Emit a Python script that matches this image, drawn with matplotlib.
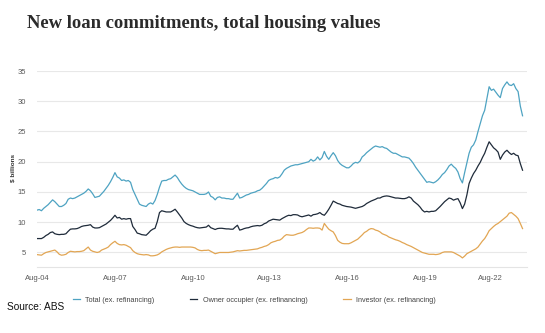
import matplotlib
matplotlib.use("Agg")
import matplotlib.pyplot as plt
import numpy as np

# Monthly values, Aug-2004 .. Oct-2022 ($ billions)
total = [
    12.0, 12.1, 11.9, 12.3, 12.6,
    12.9, 13.3, 13.7, 13.4, 13.0, 12.6, 12.6, 12.8, 13.1, 13.8, 14.0, 13.9,
    14.0, 14.2, 14.4, 14.6, 14.8, 15.1, 15.5, 15.2, 14.7, 14.1, 14.2, 14.3,
    14.7, 15.1, 15.6, 16.1, 16.7, 17.4, 18.2, 17.5, 17.3, 16.9, 17.0, 16.8,
    16.9, 16.6, 15.4, 14.6, 13.8, 13.0, 12.8, 12.7, 12.6, 13.0, 13.2, 13.0,
    13.6, 14.6, 15.8, 16.8, 16.9, 16.9, 17.1, 17.2, 17.5, 17.8, 17.4, 16.8,
    16.3, 15.9, 15.6, 15.4, 15.3, 15.2, 15.0, 14.8, 14.6, 14.6, 14.6, 14.7,
    15.0, 14.3, 14.1, 13.7, 14.1, 14.2, 14.0, 14.0, 13.9, 13.9, 13.8, 13.8,
    14.3, 14.8, 14.0, 14.1, 14.3, 14.5, 14.6, 14.8, 14.9, 15.0, 15.2, 15.3,
    15.6, 16.0, 16.4, 16.9, 17.1, 17.2, 17.4, 17.3, 17.5, 18.0, 18.6, 18.9,
    19.1, 19.3, 19.4, 19.5, 19.5, 19.6, 19.7, 19.8, 19.9, 20.0, 20.4, 20.1,
    20.3, 20.8, 20.3, 20.7, 21.7, 20.9, 20.4, 21.0, 21.5, 21.0, 20.2, 19.7,
    19.4, 19.2, 19.0, 19.0, 19.3, 19.7, 19.9, 19.8, 20.1, 20.8, 21.1, 21.5,
    21.8, 22.1, 22.4, 22.6, 22.5, 22.4, 22.5, 22.3, 22.2, 21.9, 21.6, 21.4,
    21.4, 21.2, 21.0, 20.8, 20.8, 20.7, 20.6, 20.2, 19.7, 19.1, 18.6, 18.1,
    17.6, 17.1, 16.6, 16.7, 16.6, 16.5, 16.7, 17.0, 17.4, 17.9, 18.2, 18.7,
    19.3, 19.6, 19.2, 18.9, 18.3, 17.2, 16.5, 18.2, 19.8, 21.4, 22.4, 22.8,
    23.6, 25.0, 26.3, 27.6, 28.5, 30.5, 32.4, 31.8, 32.0, 31.5, 31.0, 30.6,
    32.1, 32.7, 33.2, 32.7, 32.6, 32.9, 32.1, 31.6, 29.2, 27.6,
]

owner_occupier = [
    7.3, 7.3, 7.3, 7.5, 7.8,
    8.0, 8.3, 8.4, 8.1, 8.0, 7.95, 8.0, 8.0, 8.1, 8.5, 8.85, 8.9,
    8.9, 8.95, 9.1, 9.3, 9.4, 9.45, 9.5, 9.6, 9.2, 9.05, 9.05, 9.1,
    9.3, 9.5, 9.7, 10.0, 10.3, 10.7, 11.15, 10.7, 10.8, 10.5, 10.6, 10.5,
    10.6, 10.6, 9.3, 8.8, 8.2, 8.1, 7.95, 7.9, 7.85, 8.2, 8.6, 8.85,
    9.0, 10.1, 11.6, 11.9, 11.8, 11.7, 11.7, 11.7, 11.9, 12.15, 11.7, 11.2,
    10.7, 10.1, 9.8, 9.6, 9.45, 9.35, 9.2, 9.1, 9.05, 9.1, 9.15, 9.2,
    9.5, 9.1, 8.95, 8.8, 8.95, 9.0, 9.0, 8.95, 8.9, 8.9, 8.85, 8.85,
    9.2, 9.5, 8.7, 8.8, 8.95, 9.05, 9.1, 9.25, 9.35, 9.4, 9.45, 9.4,
    9.5, 9.75, 9.9, 10.2, 10.35, 10.5, 10.45, 10.4, 10.35, 10.6, 10.8, 11.0,
    11.15, 11.1, 11.25, 11.25, 11.2, 11.0, 10.9, 11.0, 11.1, 11.2, 11.0, 11.25,
    11.3, 11.4, 11.6, 11.3, 11.15, 11.6, 12.15, 12.8, 13.5, 13.3, 13.1, 13.0,
    12.8, 12.7, 12.6, 12.55, 12.5, 12.4, 12.3, 12.4, 12.5, 12.6, 12.8, 13.1,
    13.3, 13.5, 13.65, 13.8, 14.0, 14.0, 14.2, 14.3, 14.35, 14.3, 14.2, 14.1,
    14.0, 14.0, 13.95, 13.9, 13.9, 14.0, 14.2, 14.0, 13.5, 13.2, 12.9, 12.5,
    12.0, 11.7, 11.8, 11.7, 11.8, 11.8, 11.9, 12.25, 12.6, 13.0, 13.4, 13.7,
    14.0, 13.9, 13.65, 13.8, 13.9, 13.2, 12.25, 13.0, 14.5, 16.4, 17.3, 18.05,
    18.6, 19.3, 19.9, 20.7, 21.4, 22.4, 23.3, 22.8, 22.3, 22.0, 21.6, 20.4,
    21.1, 21.6, 21.9, 21.5, 21.2, 21.4, 21.1, 21.0, 19.7, 18.6,
]

investor = [
    4.65, 4.6, 4.55, 4.8, 5.0,
    5.1, 5.2, 5.3, 5.4, 5.1, 4.7, 4.55, 4.6, 4.7, 5.0, 5.2, 5.15,
    5.1, 5.15, 5.15, 5.2, 5.3, 5.6, 5.9, 5.4, 5.2, 5.1, 5.0, 5.1,
    5.4, 5.55, 5.7, 5.9, 6.3, 6.6, 6.85, 6.5, 6.3, 6.25, 6.3, 6.2,
    6.0, 5.8, 5.3, 5.0, 4.8, 4.7, 4.65, 4.6, 4.65, 4.6, 4.45, 4.45,
    4.5, 4.6, 4.8, 5.1, 5.3, 5.5, 5.65, 5.75, 5.85, 5.9, 5.9, 5.85,
    5.9, 5.9, 5.9, 5.9, 5.9, 5.85, 5.75, 5.5, 5.35, 5.3, 5.35, 5.35,
    5.4, 5.2, 5.0, 4.8, 4.9, 5.0, 5.0, 5.0, 5.0, 5.0, 5.05, 5.1,
    5.2, 5.3, 5.25, 5.3, 5.35, 5.35, 5.4, 5.45, 5.5, 5.55, 5.6, 5.75,
    5.85, 6.0, 6.1, 6.3, 6.6, 6.75, 6.85, 7.0, 7.05, 7.3, 7.7, 7.95,
    7.9, 7.85, 7.85, 7.95, 8.1, 8.2, 8.3, 8.5, 8.8, 9.05, 9.05, 9.0,
    9.05, 9.05, 9.0, 8.7, 9.8, 9.3, 8.85, 8.6, 8.4, 7.8, 7.0, 6.7,
    6.5, 6.45, 6.45, 6.45, 6.6, 6.8, 7.0, 7.2, 7.55, 7.9, 8.3, 8.5,
    8.8, 8.95, 8.9, 8.7, 8.6, 8.4, 8.1, 7.95, 7.8, 7.55, 7.4, 7.25,
    7.1, 7.0, 6.85, 6.65, 6.5, 6.3, 6.15, 6.0, 5.8, 5.6, 5.4, 5.2,
    5.0, 4.9, 4.8, 4.7, 4.7, 4.7, 4.65, 4.7, 4.8, 5.0, 5.1, 5.1,
    5.1, 5.1, 5.0, 4.8, 4.6, 4.4, 4.1, 4.4, 4.8, 5.0, 5.2, 5.4,
    5.6, 5.9, 6.4, 6.9, 7.3, 7.9, 8.6, 8.95, 9.3, 9.6, 9.8, 10.1,
    10.4, 10.7, 11.0, 11.5, 11.6, 11.3, 11.0, 10.6, 9.8, 8.95,
]

series_labels = ["Total (ex. refinancing)", "Owner occupier (ex. refinancing)",
                 "Investor (ex. refinancing)"]
series_colors = ["#4ea3c2", "#1f2b3a", "#e2a654"]
tick_labels = ["Aug-04", "Aug-07", "Aug-10", "Aug-13", "Aug-16", "Aug-19", "Aug-22"]
tick_pos = [0, 35, 70, 104.5, 139.5, 174.5, 203.5]
y_ticks = [5, 10, 15, 20, 25, 30, 35]

W, H = 545, 333
fig = plt.figure(figsize=(W / 100, H / 100), dpi=100)
fig.patch.set_facecolor("white")

ax = fig.add_axes([37 / W, 1 - 267 / H, 490 / W, (267 - 71) / H])
months = np.arange(len(total))
for vals, lab, col in zip([total, owner_occupier, investor], series_labels, series_colors):
    ax.plot(months, vals, color=col, lw=0.9, label=lab, solid_joinstyle="round")

ax.set_xlim(0, 220)
ax.set_ylim(2.6, 35)
ax.set_yticks(y_ticks)
ax.set_xticks(tick_pos)
ax.set_xticklabels(tick_labels)
ax.grid(axis="y", color="#e8e8e8", lw=0.8)
ax.set_axisbelow(True)
for s in ["top", "right", "left"]:
    ax.spines[s].set_visible(False)
ax.spines["bottom"].set_color("#e4e4e4")
ax.spines["bottom"].set_linewidth(0.8)
ax.tick_params(length=0, labelsize=5.5, labelcolor="#5a5a5a")
ax.tick_params(axis="x", pad=6)
ax.tick_params(axis="y", pad=8)
for t in ax.get_yticklabels() + ax.get_xticklabels():
    t.set_fontfamily("Liberation Sans")

fig.text(13 / W, 1 - 168 / H, "$ billions", rotation=90, ha="center", va="center",
         fontsize=4.6, fontweight="bold", color="#333333", family="Liberation Sans")

fig.text(27 / W, 1 - 24 / H, "New loan commitments, total housing values",
         ha="left", va="center", fontsize=13.4, fontweight="bold", color="#2b2b2b",
         family="Liberation Serif")

leg = ax.legend(loc="center", bbox_to_anchor=(254 / W, 1 - 300 / H),
                bbox_transform=fig.transFigure, ncol=3, frameon=False,
                handlelength=1.0, handletextpad=0.7, columnspacing=5.0,
                prop={"family": "Liberation Sans", "size": 5.2})
for t in leg.get_texts():
    t.set_color("#444444")

fig.text(7 / W, 1 - 307 / H, "Source: ABS", ha="left", va="center", fontsize=7.3,
         color="#111111", family="Liberation Sans")

fig.savefig("out.png", dpi=100, facecolor="white")
